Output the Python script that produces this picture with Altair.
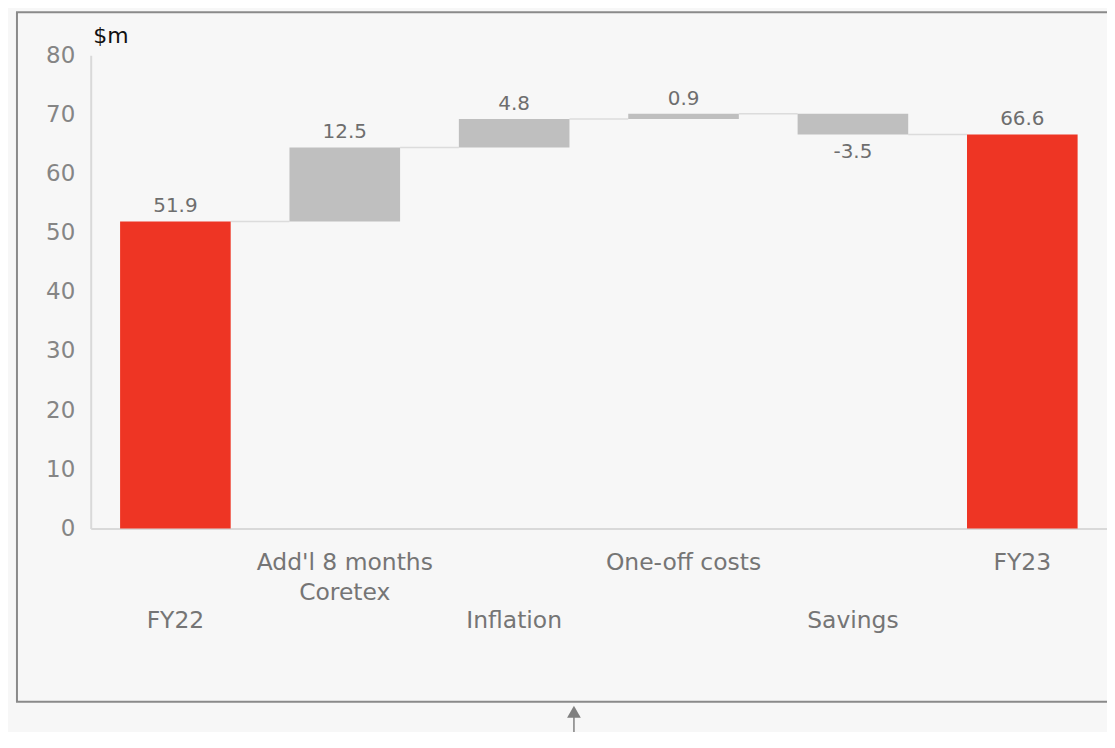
import altair as alt
import pandas as pd

# ---- data ----
categories = ["FY22", "Add'l 8 months\nCoretex", "Inflation", "One-off costs", "Savings", "FY23"]
values = [51.9, 12.5, 4.8, 0.9, -3.5, 66.6]
kinds = ["total", "change", "change", "change", "change", "total"]
label_rows = ["lower", "upper", "lower", "upper", "lower", "upper"]
y_ticks = [0, 10, 20, 30, 40, 50, 60, 70, 80]
unit_label = "$m"

rows = []
running = 0.0
for cat, val, kind, row in zip(categories, values, kinds, label_rows):
    if kind == "total":
        start, end = 0.0, val
    else:
        start, end = running, round(running + val, 1)
    running = end
    rows.append(dict(cat=cat, start=start, end=end, value=val, kind=kind,
                     row=row, label=f"{val:.1f}"))
df = pd.DataFrame(rows)
conn = pd.DataFrame([
    {"from": categories[i], "to": categories[i + 1], "level": rows[i]["end"]}
    for i in range(len(categories) - 1)
])

FONT = "DejaVu Sans"
RED = "#EE3524"
GREY = "#BFBFBF"

xscale = alt.Scale(domain=categories, paddingInner=0.347, paddingOuter=0.1735)
yscale = alt.Scale(domain=[0, 80], nice=False)

base = alt.Chart(df)

bars = base.mark_bar().encode(
    x=alt.X("cat:N", scale=xscale, sort=None,
            axis=alt.Axis(title=None, labels=False, ticks=False, domain=True,
                          domainColor="#d9d9d9", domainWidth=2, grid=False)),
    y=alt.Y("start:Q", scale=yscale,
            axis=alt.Axis(values=y_ticks, title=unit_label, grid=False, ticks=False,
                          domain=True, domainColor="#d9d9d9", domainWidth=2,
                          labelColor="#858585", labelFont=FONT, labelFontSize=23,
                          labelPadding=16, titleAngle=0, titleX=2, titleY=-20,
                          titleAlign="left", titleBaseline="middle",
                          titleColor="#111111", titleFont=FONT, titleFontSize=22,
                          titleFontWeight="normal")),
    y2="end:Q",
    color=alt.Color("kind:N", scale=alt.Scale(domain=["total", "change"], range=[RED, GREY]),
                    legend=None),
)

connectors = alt.Chart(conn).mark_rule(color="#dcdcdc", strokeWidth=1.5).encode(
    x=alt.X("from:N", scale=xscale, bandPosition=1),
    x2=alt.X2("to:N", bandPosition=0),
    y=alt.Y("level:Q", scale=yscale),
)

val_pos = base.transform_filter("datum.value >= 0").mark_text(
    dy=-15, baseline="middle", font=FONT, fontSize=20, color="#6e6e6e"
).encode(x=alt.X("cat:N", scale=xscale), y=alt.Y("end:Q", scale=yscale), text="label:N")

val_neg = base.transform_filter("datum.value < 0").mark_text(
    dy=18, baseline="middle", font=FONT, fontSize=20, color="#6e6e6e"
).encode(x=alt.X("cat:N", scale=xscale), y=alt.Y("end:Q", scale=yscale), text="label:N")

cat_upper = base.transform_filter("datum.row == 'upper'").mark_text(
    baseline="alphabetic", lineBreak="\n", lineHeight=29.5, font=FONT, fontSize=23.5,
    color="#757575"
).encode(x=alt.X("cat:N", scale=xscale), y=alt.value(517), text="cat:N")

cat_lower = base.transform_filter("datum.row == 'lower'").mark_text(
    baseline="alphabetic", lineBreak="\n", lineHeight=29.5, font=FONT, fontSize=23.5,
    color="#757575"
).encode(x=alt.X("cat:N", scale=xscale), y=alt.value(575), text="cat:N")

deco = alt.Chart(alt.Data(values=[{"d": 1}]))
frame = deco.mark_rect(fillOpacity=0, stroke="#8a8a8a", strokeWidth=2).encode(
    x=alt.value(-74), x2=alt.value(1060), y=alt.value(-43), y2=alt.value(649)
)
arrow_shaft = deco.mark_rule(color="#808080", strokeWidth=1.5).encode(
    x=alt.value(485), y=alt.value(662), y2=alt.value(720)
)
arrow_head = deco.mark_point(shape="triangle-up", filled=True, size=190,
                             color="#808080", opacity=1).encode(
    x=alt.value(485), y=alt.value(659)
)

chart = alt.layer(
    frame, connectors, bars, val_pos, val_neg, cat_upper, cat_lower, arrow_shaft, arrow_head
).properties(
    width=1020, height=475,
    padding={"left": 83, "top": 46, "right": 0, "bottom": 203},
    autosize=alt.AutoSizeParams(type="none"),
    background="#f7f7f7",
).configure_view(stroke="transparent")

chart.save("out.html", embed_options={"renderer": "svg", "actions": False})
